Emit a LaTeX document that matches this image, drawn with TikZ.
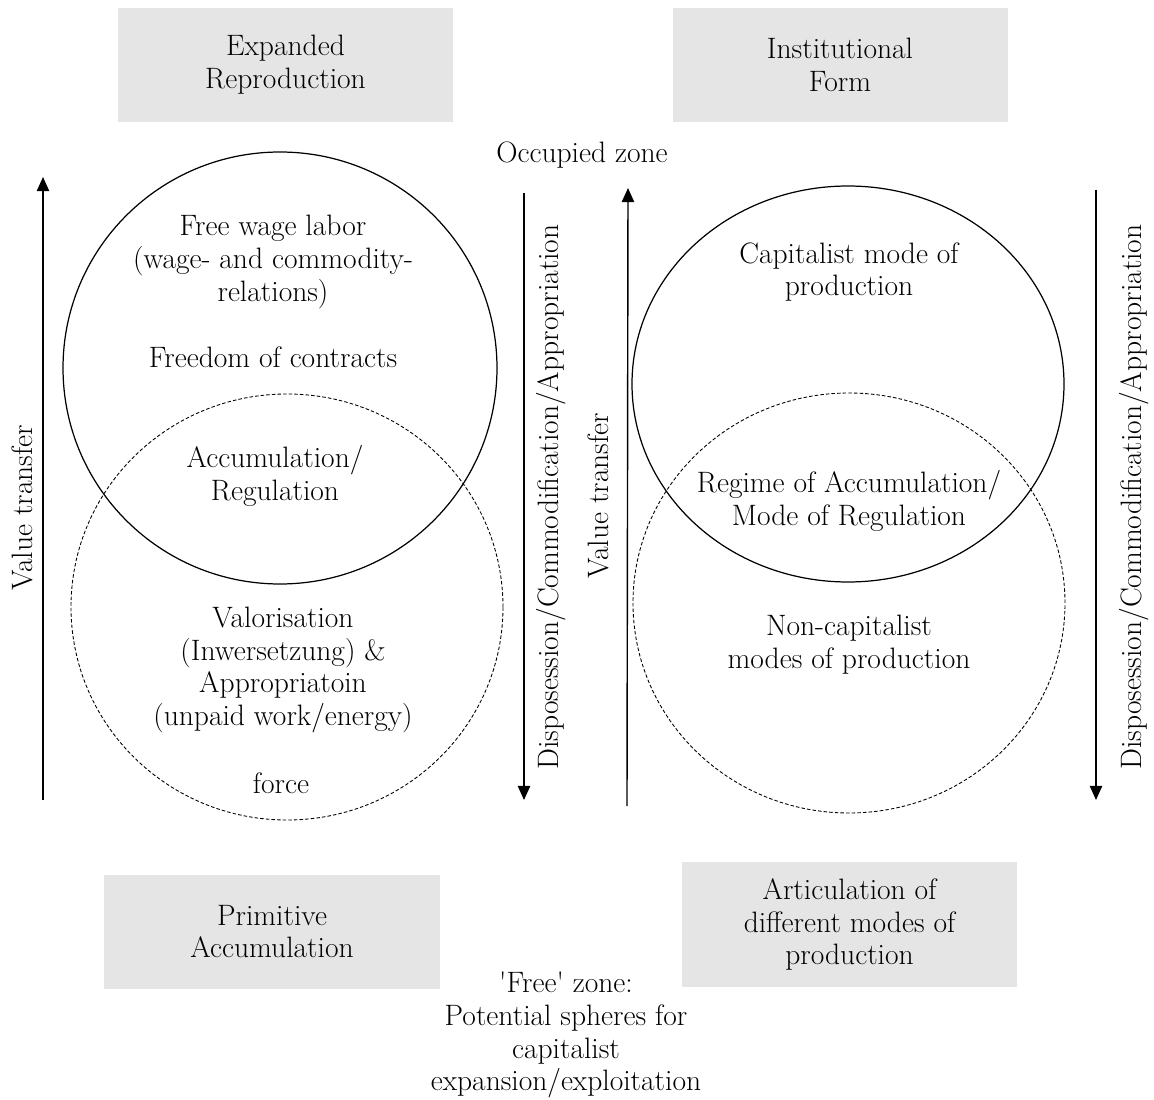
\documentclass[tikz,border=0pt]{standalone}
\usetikzlibrary{arrows.meta}
\begin{document}
\begin{tikzpicture}[x=0.2mm,y=0.2mm,
  every node/.style={font=\fontsize{16.8}{18.7}\selectfont, align=center, inner sep=0pt},
  greybox/.style={fill=boxgrey, minimum width=67mm, minimum height=22.8mm},
  ring/.style={line width=0.7pt},
  dashring/.style={line width=0.5pt, dash pattern=on 2pt off 1.2pt},
  flow/.style={line width=0.8pt, -{Triangle[width=7pt,length=8pt]}},
  side/.style={rotate=90}]
\definecolor{boxgrey}{HTML}{E6E5E6}
\useasboundingbox (0,0) rectangle (1154,-1100);
% grey boxes
\node[greybox] (expanded) at (285.5,-65) {Expanded\\Reproduction};
\node[greybox] (institutional) at (840,-65) {Institutional\\Form};
\node[greybox] (primitive) at (272,-931.5) {Primitive\\Accumulation};
\node[greybox, minimum height=25mm] (articulation) at (849.5,-924.5) {Articulation of\\different modes of\\production};
\node (occupied) at (582,-155) {Occupied zone};
\node (free) at (566,-1035) {\textquotesingle Free\textquotesingle{} zone:\\Potential spheres for\\capitalist\\expansion/exploitation};
% circles
\draw[ring] (280,-368) ellipse [x radius=217, y radius=216];
\draw[dashring] (287,-607) ellipse [x radius=216, y radius=213];
\draw[ring] (848,-384) ellipse [x radius=216, y radius=198];
\draw[dashring] (849,-603) ellipse [x radius=216, y radius=210];
% circle texts
\node (wage) at (273,-262) {Free wage labor\\(wage- and commodity-\\relations)};
\node (contracts) at (273,-357) {Freedom of contracts};
\node (accreg) at (275,-476) {Accumulation/\\Regulation};
\node (valor) at (283,-670) {Valorisation\\(Inwersetzung) \&\\Appropriatoin\\(unpaid work/energy)};
\node (force) at (281,-783) {force};
\node (capmode) at (849,-272) {Capitalist mode of\\production};
\node (regime) at (849,-501) {Regime of Accumulation/\\Mode of Regulation};
\node (noncap) at (849,-645) {Non-capitalist\\modes of production};
% arrows
\coordinate (lup0) at (43,-800);
\coordinate (lup1) at (43,-177);
\coordinate (ldown0) at (524,-193);
\coordinate (ldown1) at (524,-800);
\coordinate (rup0) at (627,-806);
\coordinate (rup1) at (628,-188);
\coordinate (rdown0) at (1096,-190);
\coordinate (rdown1) at (1096,-800);
\draw[flow] (lup0) -- (lup1);
\draw[flow] (ldown0) -- (ldown1);
\draw[flow] (rup0) -- (rup1);
\draw[flow] (rdown0) -- (rdown1);
\node[side] (ltransfer) at (22,-508) {Value transfer};
\node[side] (ldispo) at (551,-497) {Disposession/Commodification/Appropriation};
\node[side] (rtransfer) at (598,-496) {Value transfer};
\node[side] (rdispo) at (1134,-497) {Disposession/Commodification/Appropriation};
\end{tikzpicture}
\end{document}
